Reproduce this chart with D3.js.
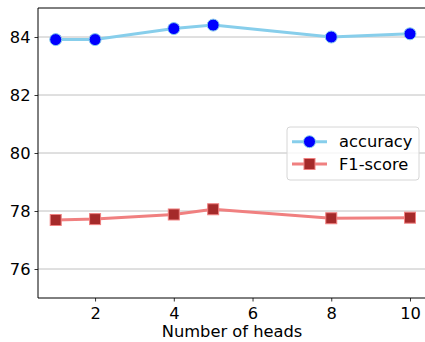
<!DOCTYPE html>
<html>
<head>
<script src="https://cdn.jsdelivr.net/npm/d3@7"></script>
<style>
body{margin:0;background:white;}
svg text{font-family:"DejaVu Sans",sans-serif;fill:#000;}
</style>
</head>
<body>
<div id="chart"></div>
<script>
var heads = [1, 2, 4, 5, 8, 10];
var accuracy = [83.91, 83.91, 84.29, 84.41, 84.0, 84.11];
var f1score = [77.69, 77.72, 77.88, 78.06, 77.75, 77.77];
var xTicks = [2, 4, 6, 8, 10];
var yTicks = [76, 78, 80, 82, 84];

var W = 425, H = 342;
var mLeft = 38, mTop = 8, mBottom = 298, mRight = 427.7;
var fs = '16.3px';

var svg = d3.select('#chart').append('svg')
	.attr('width', W)
	.attr('height', H);

var x = d3.scaleLinear().domain([0.55, 10.45]).range([mLeft, mRight]);
var y = d3.scaleLinear().domain([75, 85]).range([mBottom, mTop]);

// grid
svg.append('g').selectAll('line').data(yTicks).enter().append('line')
	.attr('x1', mLeft).attr('x2', W)
	.attr('y1', function(d){ return y(d); })
	.attr('y2', function(d){ return y(d); })
	.attr('stroke', '#b0b0b0')
	.attr('stroke-width', 0.8);

// axes
var yAxis = svg.append('g')
	.attr('transform', 'translate(' + mLeft + ',0)')
	.call(d3.axisLeft(y).tickValues(yTicks).tickSize(3.5).tickPadding(4));
var xAxis = svg.append('g')
	.attr('transform', 'translate(0,' + mBottom + ')')
	.call(d3.axisBottom(x).tickValues(xTicks).tickSize(3.5).tickPadding(4));
[yAxis, xAxis].forEach(function(a){
	a.select('.domain').remove();
	a.selectAll('line').attr('stroke', '#000').attr('stroke-width', 0.8);
	a.selectAll('text').style('font-size', fs).attr('fill', '#000');
});
xAxis.selectAll('text').attr('dy', '0.8em');

// spines
svg.append('line').attr('x1', mLeft).attr('x2', mLeft).attr('y1', mTop).attr('y2', mBottom)
	.attr('stroke', '#000').attr('stroke-width', 1);
svg.append('line').attr('x1', mLeft).attr('x2', W).attr('y1', mBottom).attr('y2', mBottom)
	.attr('stroke', '#000').attr('stroke-width', 1);
svg.append('line').attr('x1', mLeft).attr('x2', W).attr('y1', mTop).attr('y2', mTop)
	.attr('stroke', '#000').attr('stroke-width', 1);

var line = d3.line()
	.x(function(d){ return x(d[0]); })
	.y(function(d){ return y(d[1]); });

var accData = heads.map(function(h, i){ return [h, accuracy[i]]; });
var f1Data = heads.map(function(h, i){ return [h, f1score[i]]; });

svg.append('path').datum(accData).attr('d', line)
	.attr('fill', 'none').attr('stroke', '#87ceeb').attr('stroke-width', 3);
svg.append('g').selectAll('circle').data(accData).enter().append('circle')
	.attr('cx', function(d){ return x(d[0]); })
	.attr('cy', function(d){ return y(d[1]); })
	.attr('r', 6)
	.attr('fill', '#0000ff')
	.attr('stroke', '#87ceeb').attr('stroke-width', 1);

svg.append('path').datum(f1Data).attr('d', line)
	.attr('fill', 'none').attr('stroke', '#f08080').attr('stroke-width', 3);
svg.append('g').selectAll('rect').data(f1Data).enter().append('rect')
	.attr('x', function(d){ return x(d[0]) - 5.5; })
	.attr('y', function(d){ return y(d[1]) - 5.5; })
	.attr('width', 11).attr('height', 11)
	.attr('fill', '#a52a2a')
	.attr('stroke', '#f08080').attr('stroke-width', 1);

// x label
svg.append('text')
	.attr('x', 232).attr('y', 337)
	.attr('text-anchor', 'middle')
	.style('font-size', fs)
	.text('Number of heads');

// legend
var lg = svg.append('g');
lg.append('rect')
	.attr('x', 287).attr('y', 127).attr('width', 132).attr('height', 53)
	.attr('rx', 3)
	.attr('fill', 'white').attr('fill-opacity', 0.8)
	.attr('stroke', '#d6d6d6').attr('stroke-width', 1);
var items = [
	{name: 'accuracy', line: '#87ceeb', fill: '#0000ff', shape: 'circle'},
	{name: 'F1-score', line: '#f08080', fill: '#a52a2a', shape: 'square'}
];
items.forEach(function(it, i){
	var cy = 141.7 + i * 22.3;
	lg.append('line').attr('x1', 292).attr('x2', 327).attr('y1', cy).attr('y2', cy)
		.attr('stroke', it.line).attr('stroke-width', 3);
	if (it.shape == 'circle') {
		lg.append('circle').attr('cx', 309.5).attr('cy', cy).attr('r', 6)
			.attr('fill', it.fill).attr('stroke', it.line).attr('stroke-width', 1);
	} else {
		lg.append('rect').attr('x', 304).attr('y', cy - 5.5).attr('width', 11).attr('height', 11)
			.attr('fill', it.fill).attr('stroke', it.line).attr('stroke-width', 1);
	}
	lg.append('text').attr('x', 339).attr('y', cy).attr('dy', '0.35em')
		.style('font-size', fs).text(it.name);
});
</script>
</body>
</html>
